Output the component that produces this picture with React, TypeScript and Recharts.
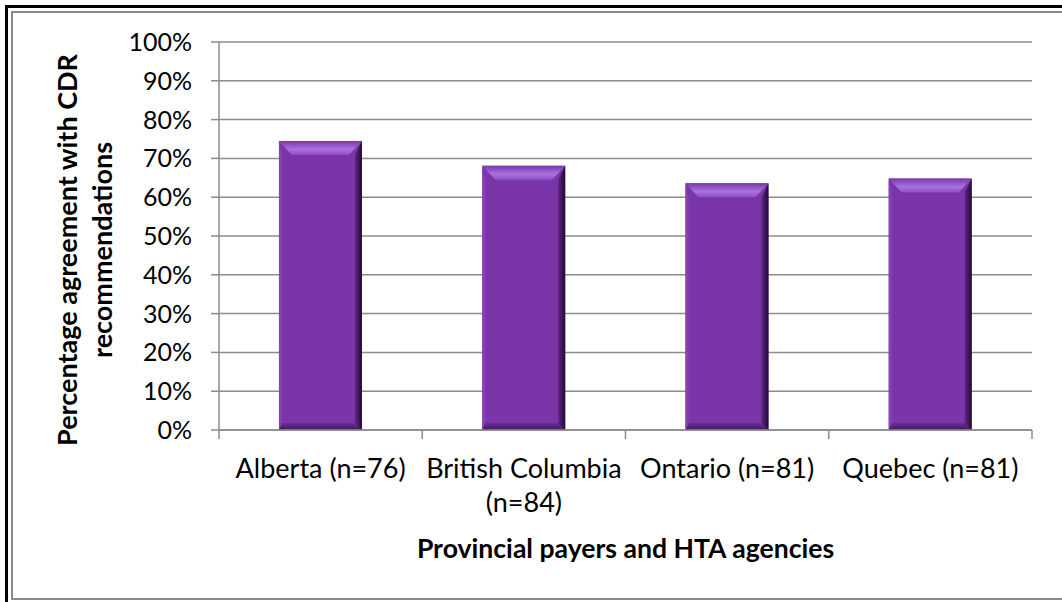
import React from 'react';
import { BarChart, Bar, XAxis, YAxis, CartesianGrid, Customized } from 'recharts';

// ---- data ----
const categories = ['Alberta (n=76)', 'British Columbia\n(n=84)', 'Ontario (n=81)', 'Quebec (n=81)'];
const agreement = [0.745, 0.681, 0.636, 0.648];
const yTicks = [0, 0.1, 0.2, 0.3, 0.4, 0.5, 0.6, 0.7, 0.8, 0.9, 1.0];
const xTitle = 'Provincial payers and HTA agencies';
const yTitleLines = ['Percentage agreement with CDR', 'recommendations'];

const data = categories.map((name, i) => ({ name, value: agreement[i] }));

// ---- layout / style ----
const W = 1062;
const H = 602;
const PLOT_LEFT = 219;
const PLOT_RIGHT = 1032;
const PLOT_TOP = 42;
const PLOT_BOTTOM = 430;
const X_AXIS_H = 140;
const FONT = 'Lato, "Open Sans", sans-serif';
const GRID = '#8c8c8c';

const YTick = (props: any) => {
  const { x, y, payload } = props;
  return (
    <text x={x} y={y} dy="0.36em" textAnchor="end" fontFamily={FONT} fontSize={25} fill="#000">
      {`${Math.round(payload.value * 100)}%`}
    </text>
  );
};

const XTick = (props: any) => {
  const { x, payload, index } = props;
  const band = (PLOT_RIGHT - PLOT_LEFT) / categories.length;
  const lines = String(payload.value).split('\n');
  return (
    <g>
      <line x1={x - band / 2} x2={x - band / 2} y1={PLOT_BOTTOM} y2={PLOT_BOTTOM + 9} stroke={GRID} strokeWidth={1.5} />
      {index === categories.length - 1 && (
        <line x1={x + band / 2} x2={x + band / 2} y1={PLOT_BOTTOM} y2={PLOT_BOTTOM + 9} stroke={GRID} strokeWidth={1.5} />
      )}
      <text x={x} y={PLOT_BOTTOM + 48} textAnchor="middle" fontFamily={FONT} fontSize={27} fill="#000">
        {lines.map((l, i) => (
          <tspan key={i} x={x} dy={i === 0 ? 0 : 34}>
            {l}
          </tspan>
        ))}
      </text>
    </g>
  );
};

const BevelBar = (props: any) => {
  const { x, y, width: w, height: h, index } = props;
  if (!h || h <= 0) return null;
  const tb = 14; // top bevel depth
  const ti = 13; // top corner inset
  const rs = 7; // right strip
  const ls = 3; // left strip
  const bb = 7; // bottom strip
  const id = `bev${index}`;
  return (
    <g>
      <defs>
        <linearGradient id={`${id}r`} x1="0" y1="0" x2="1" y2="0">
          <stop offset="0" stopColor="#5e2784" />
          <stop offset="1" stopColor="#220934" />
        </linearGradient>
        <linearGradient id={`${id}t`} x1="0" y1="0" x2="0" y2="1">
          <stop offset="0" stopColor="#7a38ab" />
          <stop offset="0.6" stopColor="#ab72de" />
          <stop offset="1" stopColor="#8e4ec5" />
        </linearGradient>
        <linearGradient id={`${id}b`} x1="0" y1="0" x2="0" y2="1">
          <stop offset="0" stopColor="#6a2d94" />
          <stop offset="1" stopColor="#421862" />
        </linearGradient>
      </defs>
      <rect x={x} y={y} width={w} height={h} fill="#7a36a8" />
      <polygon points={`${x},${y + h} ${x + w},${y + h} ${x + w - rs},${y + h - bb} ${x + ls},${y + h - bb}`} fill={`url(#${id}b)`} />
      <polygon points={`${x},${y} ${x + ls},${y + tb} ${x + ls},${y + h - bb} ${x},${y + h}`} fill="#8642b4" />
      <polygon points={`${x + w},${y} ${x + w},${y + h} ${x + w - rs},${y + h - bb} ${x + w - rs},${y + tb}`} fill={`url(#${id}r)`} />
      <polygon points={`${x},${y} ${x + w},${y} ${x + w - ti},${y + tb} ${x + ti},${y + tb}`} fill={`url(#${id}t)`} />
    </g>
  );
};

const Titles = () => (
  <g fontFamily={FONT} fontWeight="bold" fontSize={26.6} fill="#000">
    <text x={(PLOT_LEFT + PLOT_RIGHT) / 2} y={558} textAnchor="middle">
      {xTitle}
    </text>
    <text transform="translate(77,250) rotate(-90)" textAnchor="middle" fontSize={27}>
      {yTitleLines[0]}
    </text>
    <text transform="translate(112,250) rotate(-90)" textAnchor="middle" fontSize={27}>
      {yTitleLines[1]}
    </text>
  </g>
);

const Frame = () => (
  <>
    <div style={{ position: 'absolute', left: 5, top: 5, width: 2.5, height: H - 5, background: '#000' }} />
    <div style={{ position: 'absolute', left: 5, top: 5, width: W - 5, height: 2.5, background: '#000' }} />
    <div style={{ position: 'absolute', left: 11, top: 11, width: 2, height: 588, background: '#8a8a8a' }} />
    <div style={{ position: 'absolute', left: 11, top: 11, width: W - 11, height: 2, background: '#8a8a8a' }} />
    <div style={{ position: 'absolute', left: 11, top: 598, width: W - 11, height: 2, background: '#8a8a8a' }} />
  </>
);

export default function App() {
  return (
    <div style={{ position: 'absolute', left: 0, top: 0, width: W, height: H, background: '#fff', overflow: 'hidden' }}>
      <BarChart
        width={W}
        height={H}
        data={data}
        margin={{ top: PLOT_TOP, right: W - PLOT_RIGHT, bottom: H - PLOT_BOTTOM - X_AXIS_H, left: 0 }}
        barCategoryGap="29.5%"
      >
        <CartesianGrid vertical={false} stroke={GRID} strokeWidth={1.5} />
        <XAxis
          dataKey="name"
          height={X_AXIS_H}
          tickLine={false}
          axisLine={{ stroke: GRID, strokeWidth: 1.5 }}
          tick={<XTick />}
          interval={0}
        />
        <YAxis
          type="number"
          domain={[0, 1]}
          ticks={yTicks}
          width={PLOT_LEFT}
          tickSize={8}
          tickMargin={19}
          tickLine={{ stroke: GRID, strokeWidth: 1.5 }}
          axisLine={{ stroke: GRID, strokeWidth: 1.5 }}
          tick={<YTick />}
          interval={0}
        />
        <Bar dataKey="value" shape={<BevelBar />} isAnimationActive={false} />
        <Customized component={<Titles />} />
      </BarChart>
      <Frame />
    </div>
  );
}
